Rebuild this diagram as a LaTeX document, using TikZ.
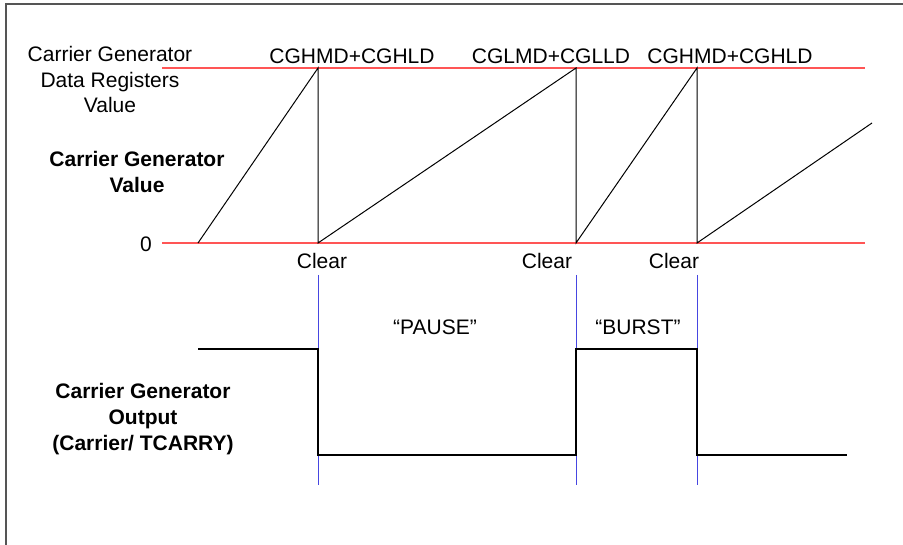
\documentclass[tikz,border=0pt]{standalone}
\usepackage{fontspec}
\setmainfont{Liberation Sans}
\definecolor{cgred}{RGB}{255,85,85}
\definecolor{cgblue}{RGB}{70,70,225}
\definecolor{framegray}{RGB}{85,85,85}
\begin{document}
\begin{tikzpicture}[x=1pt,y=-1pt,
  lbl/.style={font=\fontsize{21}{25.5}\selectfont, inner sep=0pt, anchor=base, align=center},
  bl/.style={lbl, font=\fontsize{21}{26}\selectfont\bfseries},
  refline/.style={draw=cgred, line width=2pt},
  ramp/.style={draw=black, line width=1pt},
  clr/.style={draw=cgblue, line width=1pt},
  wave/.style={draw=black, line width=2pt, line join=miter}]
\useasboundingbox (0,0) rectangle (903,545);
\draw[framegray, line width=2pt] (6,4) rectangle (920,560);
% reference levels
\coordinate (t0) at (162,68); \coordinate (t1) at (865,68);
\coordinate (b0) at (162,243); \coordinate (b1) at (865,243);
\draw[refline] (t0) -- (t1);
\draw[refline] (b0) -- (b1);
% ramp
\coordinate (r0) at (198,243);
\coordinate (p1) at (318,68); \coordinate (q1) at (318,243);
\coordinate (p2) at (576,68); \coordinate (q2) at (576,243);
\coordinate (p3) at (697,68); \coordinate (q3) at (697,243);
\coordinate (r4) at (872,123);
\draw[ramp] (r0) -- (p1) -- (q1) -- (p2) -- (q2) -- (p3) -- (q3) -- (r4);
% clear markers
\coordinate (c1a) at (318,275); \coordinate (c1b) at (318,485);
\coordinate (c2a) at (576,275); \coordinate (c2b) at (576,485);
\coordinate (c3a) at (697,275); \coordinate (c3b) at (697,485);
\draw[clr] (c1a) -- (c1b);
\draw[clr] (c2a) -- (c2b);
\draw[clr] (c3a) -- (c3b);
% output waveform
\coordinate (w0) at (198,349); \coordinate (w1) at (318,349);
\coordinate (w2) at (318,455); \coordinate (w3) at (576,455);
\coordinate (w4) at (576,349); \coordinate (w5) at (697,349);
\coordinate (w6) at (697,455); \coordinate (w7) at (847,455);
\draw[wave] (w0) -- (w1) -- (w2) -- (w3) -- (w4) -- (w5) -- (w6) -- (w7);
% labels (base = baseline of last line)
\node[lbl] (dreg) at (110,113) {Carrier Generator\\Data Registers\\Value};
\node[bl] (cgv) at (137,193) {Carrier Generator\\Value};
\node[lbl] (zero) at (146,252) {0};
\node[lbl] (v1) at (352,64) {CGHMD+CGHLD};
\node[lbl] (v2) at (551,64) {CGLMD+CGLLD};
\node[lbl] (v3) at (730,64) {CGHMD+CGHLD};
\node[lbl] (cl1) at (322,269) {Clear};
\node[lbl] (cl2) at (547,269) {Clear};
\node[lbl] (cl3) at (674,269) {Clear};
\node[lbl] (pause) at (435,335) {“PAUSE”};
\node[lbl] (burst) at (638,335) {“BURST”};
\node[bl] (cgo) at (143,450) {Carrier Generator\\Output\\(Carrier/ TCARRY)};
\end{tikzpicture}
\end{document}
